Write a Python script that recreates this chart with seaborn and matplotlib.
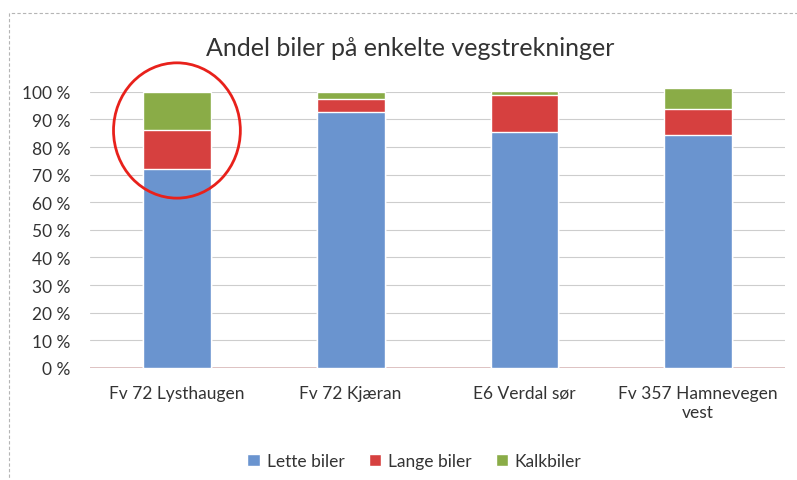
import pandas as pd
import seaborn as sns
import matplotlib.pyplot as plt
from matplotlib.patches import Ellipse, Rectangle
from matplotlib.ticker import FuncFormatter

# andel (%) per vegstrekning, lest av grafen
strekninger = ["Fv 72 Lysthaugen", "Fv 72 Kjæran", "E6 Verdal sør", "Fv 357 Hamnevegen\nvest"]
lette_biler = [72.0, 92.8, 85.5, 84.4]
lange_biler = [14.2, 4.7, 13.4, 9.4]
kalkbiler = [13.8, 2.5, 1.5, 7.5]

COLORS = {"Lette biler": "#6a94cf", "Lange biler": "#d6403f", "Kalkbiler": "#8aac47"}

df = pd.DataFrame({
    "strekning": strekninger,
    "Lette biler": lette_biler,
    "Lange biler": lange_biler,
    "Kalkbiler": kalkbiler,
})
# kumulative topper for stabling
df["top_lette"] = df["Lette biler"]
df["top_lange"] = df["top_lette"] + df["Lange biler"]
df["top_kalk"] = df["top_lange"] + df["Kalkbiler"]

sns.set_style("white")
plt.rcParams["font.family"] = ["Lato", "DejaVu Sans"]

fig = plt.figure(figsize=(7.97, 4.81), dpi=100)
ax = fig.add_axes([0.113, 0.233, 0.872, 0.574])

for col, name in [("top_kalk", "Kalkbiler"), ("top_lange", "Lange biler"), ("top_lette", "Lette biler")]:
    sns.barplot(data=df, x="strekning", y=col, color=COLORS[name], width=0.39,
                ax=ax, saturation=1, label=name, clip_on=False, zorder=3)

ax.set_ylim(0, 100)
ax.set_xlim(-0.5, 3.5)
ax.set_yticks(range(0, 101, 10))
ax.yaxis.set_major_formatter(FuncFormatter(lambda v, _: f"{int(v)} %"))
ax.grid(axis="y", color="#cdcdcd", lw=0.8, zorder=0)
ax.axhline(0, color="#d9b8b8", lw=1.2, zorder=2)
for s in ax.spines.values():
    s.set_visible(False)
ax.set_xlabel("")
ax.set_ylabel("")
ax.tick_params(axis="y", labelsize=12.5, labelcolor="#333333", pad=14, length=0)
ax.tick_params(axis="x", labelsize=12.5, labelcolor="#333333", pad=12, length=0)
for t in ax.get_xticklabels():
    t.set_linespacing(1.3)

fig.text(0.515, 0.9, "Andel biler på enkelte vegstrekninger", ha="center", va="center",
         fontsize=18, color="#333333")

# legend in Lette/Lange/Kalk order
handles, labels = ax.get_legend_handles_labels()
order = [labels.index(n) for n in ["Lette biler", "Lange biler", "Kalkbiler"]]
if ax.get_legend():
    ax.get_legend().remove()
fig.legend([handles[i] for i in order], [labels[i] for i in order], loc="center",
           bbox_to_anchor=(0.52, 0.04), ncol=3, frameon=False, fontsize=12.5,
           handlelength=0.7, handleheight=0.7, columnspacing=1.4, handletextpad=0.4,
           labelcolor="#333333")

# red circle marking first bar
ax.add_patch(Ellipse((0.0, 86), 0.73, 49, fill=False, edgecolor="#e8211b", lw=2,
                     clip_on=False, zorder=5))

# scanned chart border
fig.patches.append(Rectangle((0.011, -0.01), 0.995, 0.98, transform=fig.transFigure,
                             fill=False, edgecolor="#b5b5b5", lw=0.8, ls=(0, (3, 2))))

fig.savefig("out.png", dpi=100, facecolor="white")
